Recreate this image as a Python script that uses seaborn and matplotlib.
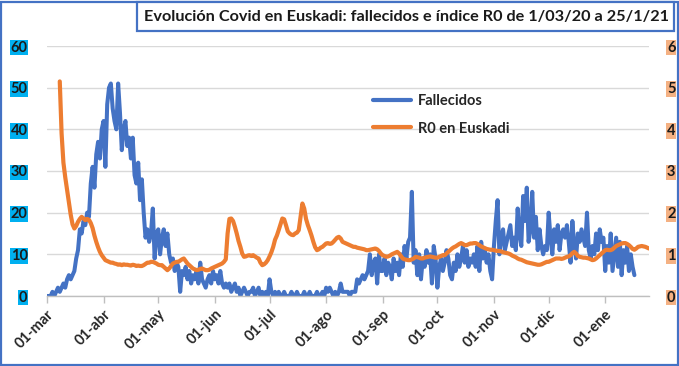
import matplotlib
matplotlib.use('Agg')
import matplotlib.pyplot as plt
import seaborn as sns
import pandas as pd
from matplotlib.patches import Rectangle
from matplotlib.lines import Line2D

# ---------------- data ----------------
fallecidos_start = '2020-03-01'
fallecidos_mar = [0, 0, 0, 1, 0, 1, 2, 1, 2, 3, 2, 4, 5, 4, 5, 6, 9, 11, 16, 15,
                  18, 17, 20, 19, 27, 31, 26, 34, 37, 33, 40]
fallecidos_abr = [42, 31, 46, 50, 51, 45, 42, 40, 51, 44, 35, 40, 42, 36, 38, 33, 38, 29, 27, 32,
                  23, 28, 20, 14, 16, 13, 15, 21, 9, 15]
fallecidos_may = [16, 10, 14, 16, 12, 15, 10, 8, 9, 6, 8, 7, 1, 6, 5, 7, 4, 6, 3, 5,
                  4, 6, 3, 8, 4, 3, 2, 4, 5, 3, 6]
fallecidos_jun = [4, 5, 3, 6, 3, 2, 3, 2, 3, 1, 2, 3, 1, 2, 0, 1, 2, 1, 0, 1,
                  1, 2, 0, 1, 2, 0, 1, 0, 1, 0]
fallecidos_jul = [4, 1, 0, 1, 0, 1, 0, 0, 1, 0, 0, 0, 1, 0, 0, 1, 0, 0, 0, 1,
                  0, 0, 1, 0, 0, 0, 1, 0, 0, 1, 0]
fallecidos_ago = [2, 1, 2, 1, 0, 1, 0, 1, 3, 1, 1, 1, 1, 0, 1, 1, 1, 4, 3, 4,
                  5, 4, 5, 6, 10, 5, 8, 9, 3, 10, 6]
fallecidos_sep = [6, 9, 5, 8, 7, 4, 9, 6, 8, 5, 10, 7, 12, 9, 13, 14, 25, 8, 11, 5,
                  10, 4, 9, 7, 11, 8, 10, 3, 12, 9]
fallecidos_oct = [2, 7, 9, 6, 8, 11, 9, 5, 4, 8, 6, 10, 7, 9, 12, 8, 11, 7, 9, 8,
                  10, 7, 12, 6, 13, 9, 11, 8, 10, 6, 4]
fallecidos_nov = [12, 18, 23, 10, 14, 16, 11, 13, 15, 17, 12, 14, 11, 21, 15, 12, 24, 18, 26, 13,
                  16, 25, 14, 19, 11, 16, 12, 10, 12, 11]
fallecidos_dic = [20, 14, 10, 16, 13, 17, 11, 15, 16, 14, 17, 13, 8, 18, 12, 9, 15, 13, 16, 14,
                  12, 20, 11, 9, 12, 10, 15, 11, 16, 13, 14]
fallecidos_ene = [6, 12, 8, 15, 6, 10, 14, 7, 13, 5, 11, 8, 12, 6, 10, 7, 5]

r0_start = '2020-03-08'
r0_mar = [5.15, 3.9, 3.2, 2.85, 2.55, 2.25, 1.95, 1.72, 1.62, 1.68, 1.78, 1.85, 1.9, 1.86,
          1.82, 1.85, 1.83, 1.75, 1.63, 1.45, 1.3, 1.17, 1.06, 0.98]
r0_abr = [0.92, 0.86, 0.84, 0.82, 0.8, 0.8, 0.78, 0.77, 0.75, 0.76, 0.74, 0.76, 0.75, 0.75,
          0.74, 0.73, 0.75, 0.74, 0.72, 0.73, 0.72, 0.72, 0.74, 0.77, 0.8, 0.8, 0.82, 0.82,
          0.8, 0.78]
r0_may = [0.75, 0.74, 0.74, 0.7, 0.66, 0.62, 0.66, 0.72, 0.78, 0.8, 0.82, 0.82, 0.85, 0.88,
          0.9, 0.84, 0.78, 0.74, 0.7, 0.66, 0.64, 0.62, 0.63, 0.65, 0.66, 0.64, 0.62, 0.62,
          0.63, 0.66, 0.68]
r0_jun = [0.7, 0.72, 0.74, 0.76, 0.78, 0.82, 0.88, 1.5, 1.85, 1.86, 1.8, 1.66, 1.5, 1.32,
          1.18, 1.02, 0.94, 0.95, 0.97, 0.98, 0.96, 0.98, 0.95, 0.92, 0.9, 0.8, 0.74, 0.76,
          0.8, 0.86]
r0_jul = [0.95, 1.05, 1.18, 1.35, 1.45, 1.58, 1.72, 1.86, 1.84, 1.7, 1.55, 1.5, 1.47, 1.46,
          1.5, 1.52, 1.58, 1.9, 2.22, 2.1, 1.85, 1.7, 1.58, 1.45, 1.3, 1.17, 1.1, 1.12, 1.16,
          1.18, 1.22]
r0_ago = [1.26, 1.27, 1.25, 1.26, 1.30, 1.35, 1.40, 1.42, 1.38, 1.30, 1.28, 1.26, 1.24, 1.22,
          1.20, 1.18, 1.18, 1.16, 1.15, 1.14, 1.13, 1.12, 1.10, 1.10, 1.11, 1.12, 1.13, 1.14,
          1.12, 1.08, 1.02]
r0_sep = [0.98, 0.96, 0.94, 0.95, 0.97, 1.0, 1.02, 1.04, 1.06, 1.02, 0.96, 0.9, 0.88, 0.87,
          0.86, 0.86, 0.88, 0.9, 0.94, 0.93, 0.92, 0.9, 0.9, 0.92, 0.93, 0.94, 0.95, 0.94,
          0.93, 0.92]
r0_oct = [0.92, 0.94, 0.96, 0.98, 0.98, 1.02, 1.06, 1.1, 1.14, 1.17, 1.19, 1.22, 1.25, 1.27,
          1.25, 1.22, 1.22, 1.24, 1.26, 1.26, 1.27, 1.27, 1.25, 1.22, 1.19, 1.17, 1.15, 1.13,
          1.12, 1.11, 1.11]
r0_nov = [1.1, 1.09, 1.08, 1.08, 1.07, 1.05, 1.04, 1.03, 1.02, 1.0, 0.97, 0.95, 0.93, 0.9,
          0.88, 0.87, 0.85, 0.83, 0.81, 0.8, 0.79, 0.78, 0.77, 0.76, 0.75, 0.75, 0.76, 0.78,
          0.8, 0.82]
r0_dic = [0.82, 0.84, 0.86, 0.88, 0.9, 0.9, 0.9, 0.89, 0.9, 0.92, 0.94, 0.95, 0.98, 1.03,
          1.06, 1.02, 0.96, 0.94, 0.93, 0.92, 0.92, 0.91, 0.9, 0.88, 0.86, 0.87, 0.9, 0.94,
          0.98, 1.02, 1.06]
r0_ene = [1.1, 1.11, 1.1, 1.1, 1.12, 1.16, 1.2, 1.22, 1.24, 1.26, 1.27, 1.27, 1.25, 1.22,
          1.18, 1.13, 1.11, 1.14, 1.18, 1.19, 1.2, 1.19, 1.18, 1.16, 1.14]

month_ticks = ['2020-03-01', '2020-04-01', '2020-05-01', '2020-06-01', '2020-07-01',
               '2020-08-01', '2020-09-01', '2020-10-01', '2020-11-01', '2020-12-01',
               '2021-01-01']
month_labels = ['01-mar', '01-abr', '01-may', '01-jun', '01-jul', '01-ago', '01-sep',
                '01-oct', '01-nov', '01-dic', '01-ene']
left_ticks = [0, 10, 20, 30, 40, 50, 60]
right_ticks = [0, 1, 2, 3, 4, 5, 6]
x_end = '2021-01-25'
title = 'Evolución Covid en Euskadi: fallecidos e índice R0 de 1/03/20 a 25/1/21'
series_names = ['Fallecidos', 'R0 en Euskadi']

fallecidos = (fallecidos_mar + fallecidos_abr + fallecidos_may + fallecidos_jun + fallecidos_jul
              + fallecidos_ago + fallecidos_sep + fallecidos_oct + fallecidos_nov
              + fallecidos_dic + fallecidos_ene)
r0 = (r0_mar + r0_abr + r0_may + r0_jun + r0_jul + r0_ago + r0_sep + r0_oct + r0_nov
      + r0_dic + r0_ene)

df_f = pd.DataFrame({'fecha': pd.date_range(fallecidos_start, periods=len(fallecidos)),
                     'valor': fallecidos})
df_r = pd.DataFrame({'fecha': pd.date_range(r0_start, periods=len(r0)), 'valor': r0})

# ---------------- style ----------------
sns.set_theme(style='white')
plt.rcParams['font.family'] = ['Lato', 'DejaVu Sans']

BLUE = '#4472C4'
ORANGE = '#ED7D31'
W, H = 679, 366

fig = plt.figure(figsize=(W / 100, H / 100), dpi=100)
ax = fig.add_axes([47 / W, 1 - 296 / H, (649 - 47) / W, (296 - 46) / H])

sns.lineplot(data=df_f, x='fecha', y='valor', ax=ax, color=BLUE, lw=2.9, legend=False)
ax2 = ax.twinx()
sns.lineplot(data=df_r, x='fecha', y='valor', ax=ax2, color=ORANGE, lw=3.0, legend=False)

ax.set_xlim(pd.Timestamp(fallecidos_start), pd.Timestamp(x_end))
ax.set_ylim(0, 60)
ax2.set_ylim(0, 6)
for a in (ax, ax2):
    a.set_xlabel('')
    a.set_ylabel('')
    for s in a.spines.values():
        s.set_visible(False)

ax.spines['bottom'].set_visible(True)
ax.spines['bottom'].set_color('#BFBFBF')
ax.spines['bottom'].set_linewidth(1.0)
ax.yaxis.grid(True, color='#D9D9D9', lw=1.0)
ax.set_axisbelow(True)

ax.set_xticks(pd.to_datetime(month_ticks))
ax.set_xticklabels(month_labels, rotation=45, ha='right', rotation_mode='anchor',
                   fontweight='bold', fontsize=10.5, color='#262626')
ax.tick_params(axis='x', bottom=True, length=5, width=1, color='#BFBFBF', pad=3)

ax.set_yticks(left_ticks)
ax.set_yticklabels([str(v) for v in left_ticks], fontweight='bold', fontsize=10.5,
                   color='#1a1a1a',
                   bbox=dict(facecolor='#00B0F0', edgecolor='none', pad=0.6))
ax.tick_params(axis='y', left=False, length=0, pad=14)

ax2.set_yticks(right_ticks)
ax2.set_yticklabels([str(v) for v in right_ticks], fontweight='bold', fontsize=10.5,
                    color='#1a1a1a',
                    bbox=dict(facecolor='#F4B183', edgecolor='none', pad=0.6))
ax2.tick_params(axis='y', right=False, length=0, pad=13)
ax2.grid(False)

handles = [Line2D([], [], color=BLUE, lw=3.0), Line2D([], [], color=ORANGE, lw=3.0)]
ax2.legend(handles, series_names, loc='center left', bbox_to_anchor=(360 / W, 1 - 115 / H),
           bbox_transform=fig.transFigure, frameon=False, handlelength=2.6,
           handletextpad=0.5, labelspacing=0.9, prop=dict(weight='bold', size=10.5))

# figure frame
fig.patches.append(Rectangle((1 / W, 1 / H), (W - 2.5) / W, (H - 2.5) / H,
                             transform=fig.transFigure, fill=False, edgecolor=BLUE, lw=1.6))
# title box
fig.patches.append(Rectangle((137 / W, 1 - 31 / H), (674 - 137) / W, 29 / H,
                             transform=fig.transFigure, facecolor='white', edgecolor=BLUE,
                             lw=1.6, zorder=5))
fig.text(407 / W, 1 - 16.5 / H, title, ha='center', va='center', fontsize=11.7,
         fontweight='bold', color='#1a1a1a', zorder=6)

fig.savefig('out.png', dpi=100)
